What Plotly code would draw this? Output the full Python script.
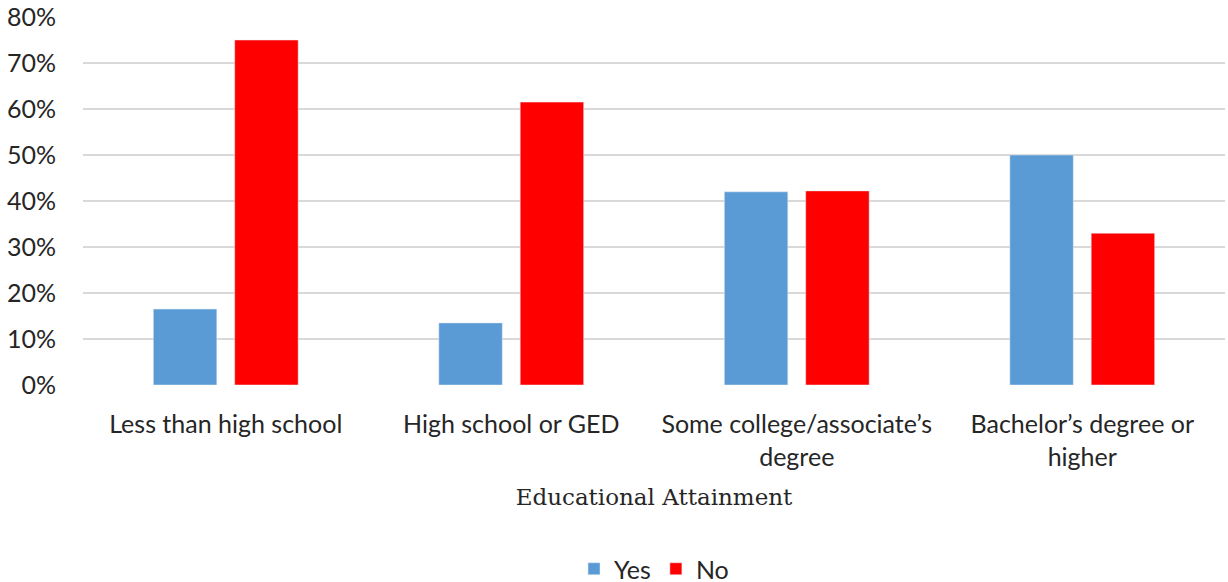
import plotly.graph_objects as go

categories = ["Less than high school", "High school or GED",
              "Some college/associate’s<br>degree", "Bachelor’s degree or<br>higher"]
yes_vals = [0.165, 0.135, 0.42, 0.50]
no_vals = [0.75, 0.615, 0.422, 0.33]
tick_vals = [0, 0.1, 0.2, 0.3, 0.4, 0.5, 0.6, 0.7, 0.8]
tick_text = ["0%", "10%", "20%", "30%", "40%", "50%", "60%", "70%", "80%"]

fig = go.Figure()
fig.add_trace(go.Bar(name="Yes", x=categories, y=yes_vals, marker_color="#5B9BD5"))
fig.add_trace(go.Bar(name="No", x=categories, y=no_vals, marker_color="#FF0000"))

fig.update_layout(
    width=1228, height=582,
    margin=dict(l=83, r=3, t=17, b=197, autoexpand=False),
    paper_bgcolor="white", plot_bgcolor="white",
    barmode="group", bargap=0.43, bargroupgap=0.22,
    font=dict(family="Lato, sans-serif", size=25, color="#262626"),
    showlegend=True,
    legend=dict(orientation="h", x=0.5, xanchor="center", y=-0.5, yanchor="middle",
                font=dict(size=25), itemwidth=30, traceorder="normal"),
    xaxis=dict(
        title=dict(text="Educational Attainment",
                   font=dict(family="DejaVu Serif, serif", size=23, color="#262626"),
                   standoff=19),
        showgrid=False, showline=False, zeroline=False,
        ticklabelstandoff=22, automargin=False,
        tickfont=dict(size=25),
    ),
    yaxis=dict(
        range=[0, 0.8], tickvals=tick_vals, ticktext=tick_text,
        showgrid=True, gridcolor="#D9D9D9", gridwidth=2,
        zeroline=False, showline=False, automargin=False,
        ticks="", ticklabelstandoff=26,
        tickfont=dict(size=25),
    ),
)
fig.write_html("out.html")
